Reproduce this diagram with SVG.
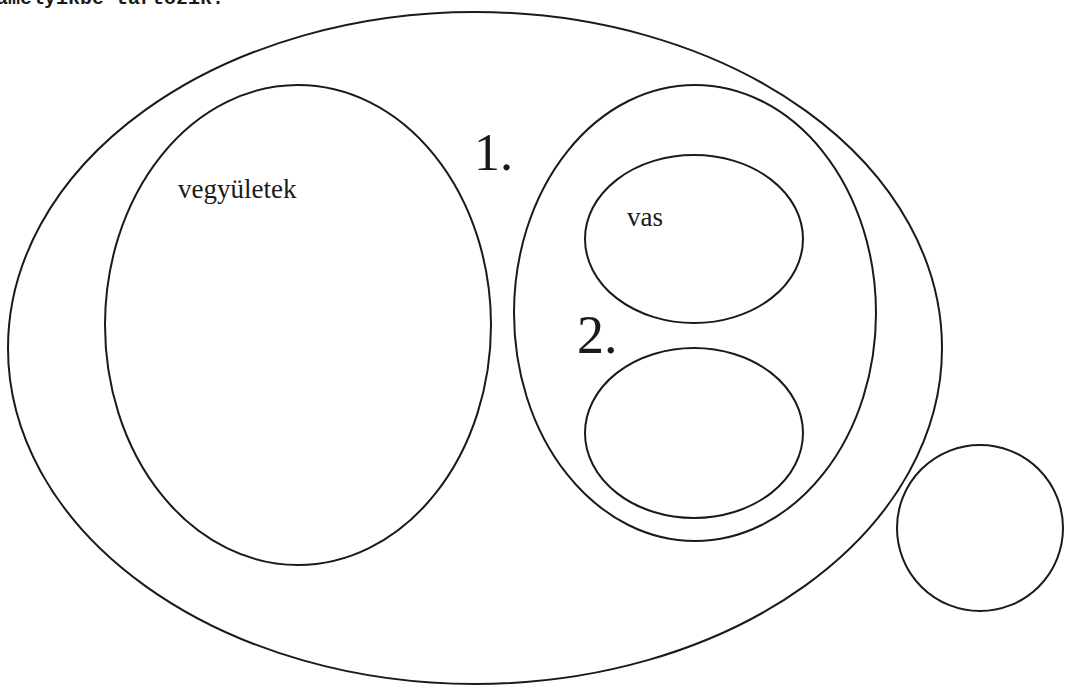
<svg xmlns="http://www.w3.org/2000/svg" width="1065" height="686" viewBox="0 0 1065 686">
<style>
.e{fill:none;stroke:#1a1a1a;stroke-width:2}
.t{font-family:"Liberation Serif","Times New Roman",serif;fill:#1a1a1a}
</style>
<rect width="1065" height="686" fill="#ffffff"/>
<text x="-4" y="4" font-size="20" font-weight="bold" font-family="'Liberation Mono','Courier New',monospace" fill="#1a1a1a">amelyikbe tartozik.</text>
<g id="outer"><ellipse class="e" cx="475" cy="348" rx="467" ry="336"/></g>
<g id="vegyuletek"><ellipse class="e" cx="298" cy="325" rx="193" ry="240"/><text class="t" x="178" y="198" font-size="27">vegyületek</text></g>
<g id="label1"><text class="t" x="474" y="170" font-size="52">1.</text></g>
<g id="elemek"><ellipse class="e" cx="695" cy="313" rx="181" ry="228"/></g>
<g id="vas"><ellipse class="e" cx="694" cy="239" rx="109" ry="84"/><text class="t" x="627" y="226" font-size="27">vas</text></g>
<g id="label2"><text class="t" x="577" y="353" font-size="54">2.</text></g>
<g id="lower"><ellipse class="e" cx="694" cy="433" rx="109" ry="85"/></g>
<g id="circle"><circle class="e" cx="980" cy="528" r="83"/></g>
<g id="connectors"></g>
</svg>
